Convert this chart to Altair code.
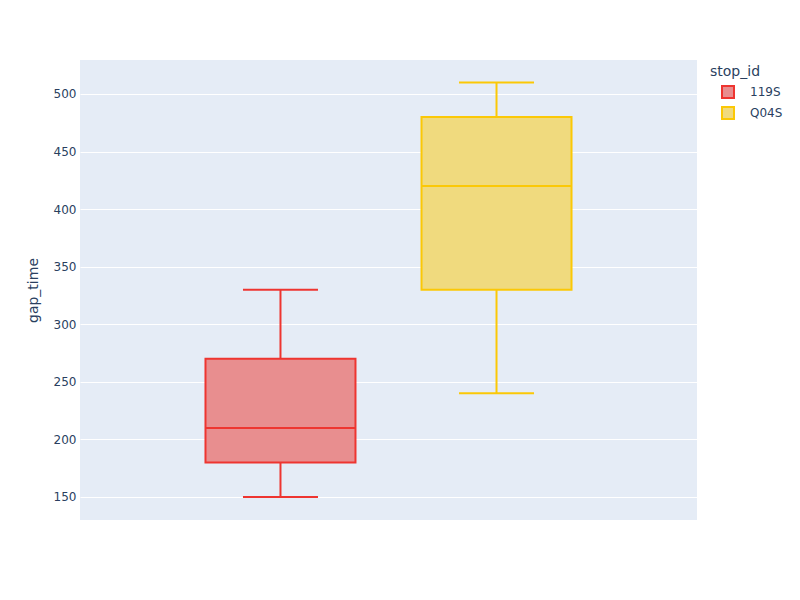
import altair as alt
import pandas as pd

stop_ids = ["119S", "Q04S"]
lower = [150, 240]
q1 = [180, 330]
median = [210, 420]
q3 = [270, 480]
upper = [330, 510]

line_colors = ["#EE3530", "#FBC806"]
fill_colors = ["#E88E8F", "#F0DA7E"]

df = pd.DataFrame({
    "stop_id": stop_ids, "lower": lower, "q1": q1,
    "median": median, "q3": q3, "upper": upper,
})

FONT = "DejaVu Sans"
TXT = "#2a3f5f"

x = alt.X("stop_id:N", scale=alt.Scale(type="point", padding=0.928), axis=None)
yscale = alt.Scale(domain=[130, 529.5], nice=False, zero=False)
stroke = alt.Stroke("stop_id:N", scale=alt.Scale(domain=stop_ids, range=line_colors), title="stop_id")

base = alt.Chart(df)

whisker = base.mark_rule(strokeWidth=2).encode(
    x=x,
    y=alt.Y("lower:Q", scale=yscale, title="gap_time"),
    y2="upper:Q",
    stroke=stroke,
)

caps_lo = base.mark_rule(strokeWidth=2, xOffset=-37.5, x2Offset=37.5).encode(
    x=x, x2="stop_id:N", y=alt.Y("lower:Q", scale=yscale), stroke=stroke)
caps_hi = base.mark_rule(strokeWidth=2, xOffset=-37.5, x2Offset=37.5).encode(
    x=x, x2="stop_id:N", y=alt.Y("upper:Q", scale=yscale), stroke=stroke)

box = base.mark_bar(size=150, strokeWidth=2, opacity=1).encode(
    x=x,
    y=alt.Y("q1:Q", scale=yscale),
    y2="q3:Q",
    stroke=stroke,
    fill=alt.Fill("stop_id:N", scale=alt.Scale(domain=stop_ids, range=fill_colors), title="stop_id"),
)

med = base.mark_rule(strokeWidth=2, xOffset=-75, x2Offset=75).encode(
    x=x, x2="stop_id:N", y=alt.Y("median:Q", scale=yscale), stroke=stroke)

chart = alt.layer(whisker, caps_lo, caps_hi, box, med).properties(
    width=617,
    height=460,
    autosize=alt.AutoSizeParams(type="none"),
    padding={"left": 72, "top": 52, "right": 90, "bottom": 60},
    background="white",
).configure_view(
    fill="#E5ECF6", stroke=None
).configure_axisY(
    grid=True, gridColor="white", gridWidth=1, domain=False, ticks=False,
    labelFont=FONT, labelFontSize=12, labelColor=TXT, labelPadding=4,
    titleFont=FONT, titleFontSize=14, titleColor=TXT, titleFontWeight="normal",
    titlePadding=13, values=[150, 200, 250, 300, 350, 400, 450, 500],
).configure_legend(
    orient="none", legendX=630, legendY=5,
    titleFont=FONT, titleFontSize=14, titleColor=TXT, titleFontWeight="normal",
    titleBaseline="top", titlePadding=6,
    labelFont=FONT, labelFontSize=12, labelColor=TXT,
    symbolType="square", symbolSize=144, symbolStrokeWidth=2,
    symbolOffset=11, labelOffset=15, rowPadding=1,
)

chart.save("out.html", embed_options={"renderer": "svg", "actions": False})
